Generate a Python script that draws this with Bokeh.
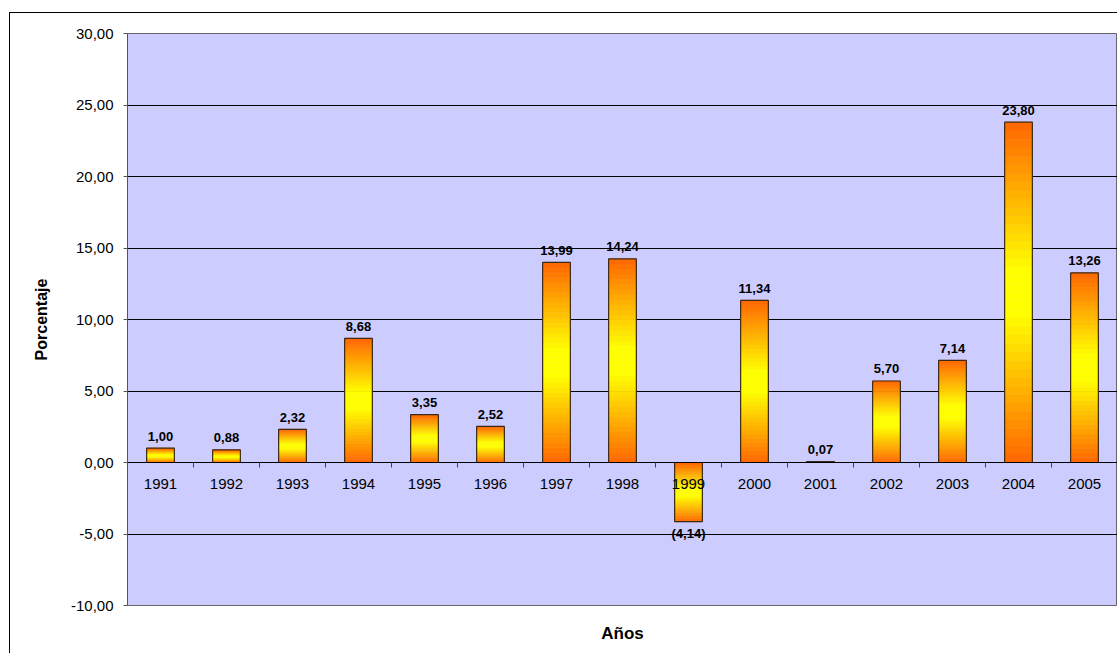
import numpy as np
from bokeh.plotting import figure
from bokeh.models import Range1d, LinearAxis, FixedTicker
from bokeh.core.properties import value
from bokeh.embed import file_html
from bokeh.resources import INLINE

years = ["1991", "1992", "1993", "1994", "1995", "1996", "1997", "1998",
         "1999", "2000", "2001", "2002", "2003", "2004", "2005"]
values = [1.00, 0.88, 2.32, 8.68, 3.35, 2.52, 13.99, 14.24,
          -4.14, 11.34, 0.07, 5.70, 7.14, 23.80, 13.26]
y_ticks = [-10, -5, 0, 5, 10, 15, 20, 25, 30]

FONT = "Liberation Sans"


def fmt_val(v):
    s = f"{abs(v):.2f}".replace(".", ",")
    return f"({s})" if v < 0 else s


def fmt_tick(t):
    return f"{t:.2f}".replace(".", ",")


n = len(years)
centers = [i + 0.5 for i in range(n)]
bounds = list(range(n + 1))

p = figure(width=1108, height=641, margin=(12, 0, 0, 9),
           x_range=Range1d(0, n), y_range=Range1d(-10, 30),
           output_backend="svg", toolbar_location=None,
           x_axis_location=None,
           min_border_left=118, min_border_top=21, min_border_bottom=48,
           min_border_right=0)
p.styles = {"box-shadow": "inset 1px 1px 0 0 black", "background": "white"}
p.background_fill_color = "#CCCCFF"
p.border_fill_alpha = 0
p.outline_line_color = "#666666"
p.outline_line_width = 1

# y axis
p.yaxis.ticker = FixedTicker(ticks=y_ticks)
p.yaxis.major_label_overrides = {t: fmt_tick(t) for t in y_ticks}
p.yaxis.major_label_text_font = FONT
p.yaxis.major_label_text_font_size = "15px"
p.yaxis.major_label_text_color = "black"
p.yaxis.major_tick_out = 4
p.yaxis.major_tick_in = 0
p.yaxis.minor_tick_out = 0
p.yaxis.minor_tick_in = 0
p.yaxis.major_label_standoff = 10
p.yaxis.axis_line_color = "#555555"
p.yaxis.major_tick_line_color = "#555555"
p.yaxis.axis_label = "Porcentaje"
p.yaxis.axis_label_text_font = FONT
p.yaxis.axis_label_text_font_style = "bold"
p.yaxis.axis_label_text_font_size = "16px"
p.yaxis.axis_label_text_color = "black"
p.yaxis.axis_label_standoff = 18

p.ygrid.ticker = FixedTicker(ticks=y_ticks)
p.ygrid.grid_line_color = "black"
p.ygrid.grid_line_width = 1
p.xgrid.visible = False

# gradient bars built from slices
N = 40
orange = np.array([255, 102, 0], dtype=float)
yellow = np.array([255, 255, 0], dtype=float)
sx, sb, st, sc = [], [], [], []
for i, v in enumerate(values):
    lo, hi = min(0.0, v), max(0.0, v)
    edges = np.linspace(lo, hi, N + 1)
    for k in range(N):
        t = (k + 0.5) / N
        w = min(1.0, 1.15 * (1 - abs(2 * t - 1)))
        c = orange + (yellow - orange) * w
        sx.append(centers[i])
        sb.append(edges[k])
        st.append(edges[k + 1])
        sc.append("#%02x%02x%02x" % tuple(int(round(x)) for x in c))

p.vbar(x=sx, bottom=sb, top=st, width=0.42, fill_color=sc, line_color=sc,
       line_width=0.6)
p.vbar(x=centers, bottom=0, top=values, width=0.42, fill_alpha=0,
       line_color="#3a2a1a", line_width=1.2)

# value labels
pos = [(c, v, fmt_val(v)) for c, v in zip(centers, values) if v >= 0]
neg = [(c, v, fmt_val(v)) for c, v in zip(centers, values) if v < 0]
p.text(x=[a[0] for a in pos], y=[a[1] for a in pos], text=[a[2] for a in pos],
       text_font=value(FONT), text_font_style="bold",
       text_font_size=value("13px"), text_align="center",
       text_baseline="alphabetic", y_offset=-12, text_color="black")
p.text(x=[a[0] for a in neg], y=[a[1] for a in neg], text=[a[2] for a in neg],
       text_font=value(FONT), text_font_style="bold",
       text_font_size=value("13px"), text_align="center",
       text_baseline="top", y_offset=4, text_color="black")

# x axis at zero: year labels at category centres, tick marks at boundaries
ax_lab = LinearAxis(fixed_location=0,
                    ticker=FixedTicker(ticks=centers, minor_ticks=bounds),
                    major_label_overrides={c: y for c, y in zip(centers, years)},
                    major_label_text_font=FONT,
                    major_label_text_font_size="15px",
                    major_label_text_color="black",
                    major_label_standoff=11,
                    major_tick_out=0, major_tick_in=0,
                    minor_tick_out=5, minor_tick_in=0,
                    minor_tick_line_color="#444444",
                    axis_line_color="black")
p.add_layout(ax_lab, "below")

# axis title below the frame
ax_title = LinearAxis(ticker=FixedTicker(ticks=[]),
                      major_tick_out=0, major_tick_in=0,
                      minor_tick_out=0, minor_tick_in=0,
                      axis_line_color=None,
                      axis_label="Años",
                      axis_label_text_font=FONT,
                      axis_label_text_font_style="bold",
                      axis_label_text_font_size="17px",
                      axis_label_text_color="black",
                      axis_label_standoff=18)
p.add_layout(ax_title, "below")

open("out.html", "w").write(file_html(p, INLINE))
